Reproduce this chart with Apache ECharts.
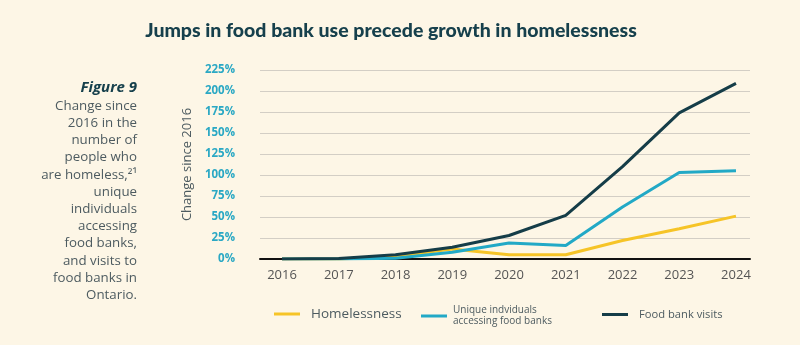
<!DOCTYPE html>
<html>
<head>
<meta charset="utf-8">
<script src="https://cdn.jsdelivr.net/npm/echarts@6/dist/echarts.min.js"></script>
<style>
html,body{margin:0;padding:0;background:#fdf6e6;}
#chart{width:800px;height:345px;}
</style>
</head>
<body>
<div id="chart"></div>
<script>
var years = [2016, 2017, 2018, 2019, 2020, 2021, 2022, 2023, 2024];
var homelessness = [0, 0, 3, 12, 5, 5, 22, 36, 51];
var uniqueIndividuals = [0, 0, 1, 8, 19, 16, 62, 103, 105];
var foodBankVisits = [0, 0.5, 5, 14, 28, 52, 110, 174, 209];
var yTicks = [0, 25, 50, 75, 100, 125, 150, 175, 200, 225];
var seriesNames = ['Homelessness', 'Unique indviduals\naccessing food banks', 'Food bank visits'];
var colors = ['#f6c427', '#22a9c6', '#153d48'];
var sideLines = ['Change since', '2016 in the', 'number of', 'people who', 'are homeless,\u00B2\u00B9', 'unique', 'individuals', 'accessing', 'food banks,', 'and visits to', 'food banks in', 'Ontario.'];

function pairs(vals){ return years.map(function(y,i){ return [y, vals[i]]; }); }

var graphics = [
  {type: 'text', x: 137, y: 88,
   style: {text: 'Figure 9', fill: '#16404c', font: 'italic bold 15px "Open Sans"', textAlign: 'right', textVerticalAlign: 'middle'}}
];
sideLines.forEach(function(t, i){
  graphics.push({type: 'text', x: 137, y: 106 + i * 17.2,
    style: {text: t, fill: '#4d5b60', font: '13.3px "Open Sans"', textAlign: 'right', textVerticalAlign: 'middle'}});
});

var chart = echarts.init(document.getElementById('chart'));
var option = {
  backgroundColor: '#fdf6e6',
  animation: false,
  title: {
    text: 'Jumps in food bank use precede growth in homelessness',
    left: 386, textAlign: 'center', top: 16,
    textStyle: {color: '#16404c', fontSize: 19.5, fontWeight: 900, fontFamily: 'Lato'}
  },
  grid: {left: 260, right: 50, top: 70, bottom: 86},
  xAxis: {
    type: 'value', min: 2015.612, max: 2024.247,
    axisLine: {show: true, lineStyle: {color: '#111', width: 2}},
    axisTick: {show: false},
    splitLine: {show: false},
    axisLabel: {
      customValues: years,
      formatter: function(v){ return String(v); },
      color: '#555', fontSize: 13, fontFamily: 'Open Sans', margin: 10
    }
  },
  yAxis: {
    type: 'value', min: 0, max: 225, interval: 25,
    name: 'Change since 2016', nameLocation: 'middle', nameGap: 66,
    nameTextStyle: {color: '#4d5b60', fontSize: 13, fontFamily: 'Open Sans'},
    axisLine: {show: false}, axisTick: {show: false},
    splitLine: {lineStyle: {color: '#d3cec5', width: 1}},
    axisLabel: {
      customValues: yTicks,
      formatter: function(v){ return v + '%'; },
      color: '#2aa8c4', fontWeight: 'bold', fontSize: 11.5, fontFamily: 'Open Sans', margin: 25
    }
  },
  legend: [
    {data: [seriesNames[0]], left: 274, top: 307, padding: 0, icon: 'rect', itemWidth: 26, itemHeight: 3,
     textStyle: {color: '#4d5b60', fontSize: 13.5, fontFamily: 'Open Sans', padding: [0, 0, 0, 6]}},
    {data: [seriesNames[1]], left: 421, top: 305, padding: 0, icon: 'rect', itemWidth: 26, itemHeight: 3,
     textStyle: {color: '#4d5b60', fontSize: 10, fontFamily: 'Open Sans', lineHeight: 11, align: 'center', width: 112, padding: [0, 0, 0, 1]}},
    {data: [seriesNames[2]], left: 602, top: 309, padding: 0, icon: 'rect', itemWidth: 26, itemHeight: 3,
     textStyle: {color: '#4d5b60', fontSize: 11.2, fontFamily: 'Open Sans', padding: [0, 0, 0, 6]}}
  ],
  graphic: graphics,
  series: [
    {name: seriesNames[0], type: 'line', data: pairs(homelessness), showSymbol: false, lineStyle: {width: 3, color: colors[0]}, itemStyle: {color: colors[0]}, z: 2},
    {name: seriesNames[1], type: 'line', data: pairs(uniqueIndividuals), showSymbol: false, lineStyle: {width: 3, color: colors[1]}, itemStyle: {color: colors[1]}, z: 3},
    {name: seriesNames[2], type: 'line', data: pairs(foodBankVisits), showSymbol: false, lineStyle: {width: 3, color: colors[2]}, itemStyle: {color: colors[2]}, z: 4}
  ]
};
chart.setOption(option);
</script>
</body>
</html>
